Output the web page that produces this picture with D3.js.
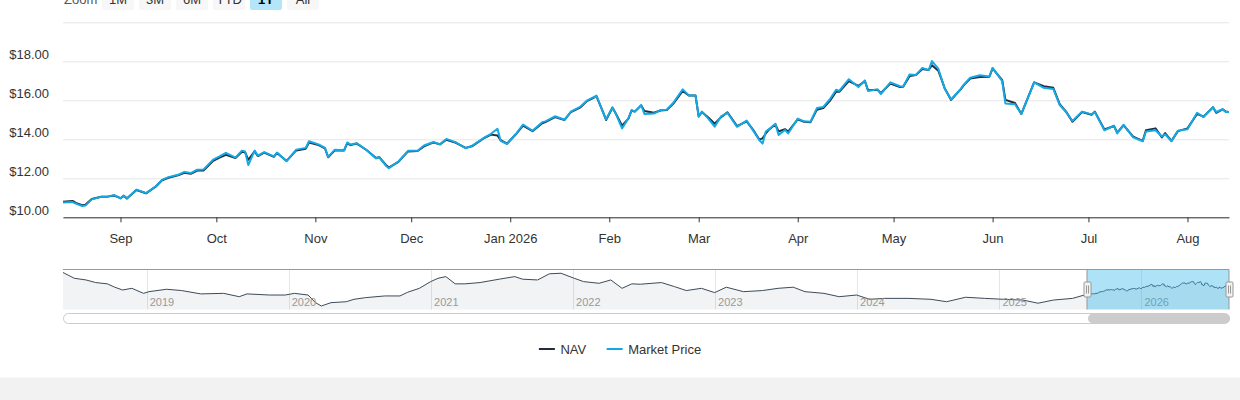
<!DOCTYPE html>
<html>
<head>
<meta charset="utf-8">
<script src="https://cdn.jsdelivr.net/npm/d3@7"></script>
<style>
    body { margin: 0; background: #fff; }
    svg { display: block; font-family: "Liberation Sans", Arial, Helvetica, sans-serif; }
</style>
</head>
<body>
<svg id="chart"></svg>
<script>
// Global settings
const width = 1240;
const height = 400;
const navColor = "#1f2d3d";
const priceColor = "#12a9e6";

// Daily series shown in the main chart (1Y range)
const dates = [
    "2025-08-14","2025-08-17","2025-08-18","2025-08-20","2025-08-21","2025-08-23","2025-08-26","2025-08-28","2025-08-30","2025-09-01",
    "2025-09-02","2025-09-03","2025-09-06","2025-09-09","2025-09-12","2025-09-14","2025-09-16","2025-09-19","2025-09-21","2025-09-23",
    "2025-09-25","2025-09-27","2025-09-30","2025-10-02","2025-10-04","2025-10-07","2025-10-09","2025-10-10","2025-10-11","2025-10-13",
    "2025-10-14","2025-10-16","2025-10-19","2025-10-20","2025-10-23","2025-10-26","2025-10-29","2025-10-30","2025-11-02","2025-11-04",
    "2025-11-05","2025-11-07","2025-11-10","2025-11-11","2025-11-12","2025-11-14","2025-11-17","2025-11-20","2025-11-21","2025-11-23",
    "2025-11-24","2025-11-27","2025-11-30","2025-12-03","2025-12-05","2025-12-08","2025-12-10","2025-12-12","2025-12-15","2025-12-18",
    "2025-12-20","2025-12-24","2025-12-26","2025-12-28","2025-12-29","2025-12-31","2026-01-03","2026-01-05","2026-01-08","2026-01-11",
    "2026-01-12","2026-01-15","2026-01-18","2026-01-20","2026-01-23","2026-01-25","2026-01-28","2026-01-30","2026-01-31","2026-02-02",
    "2026-02-03","2026-02-05","2026-02-07","2026-02-08","2026-02-09","2026-02-11","2026-02-12","2026-02-15","2026-02-17","2026-02-19",
    "2026-02-21","2026-02-24","2026-02-26","2026-02-28","2026-03-01","2026-03-02","2026-03-04","2026-03-06","2026-03-08","2026-03-10",
    "2026-03-13","2026-03-16","2026-03-18","2026-03-20","2026-03-21","2026-03-22","2026-03-23","2026-03-25","2026-03-26","2026-03-28",
    "2026-03-29","2026-04-01","2026-04-03","2026-04-05","2026-04-07","2026-04-09","2026-04-11","2026-04-13","2026-04-14","2026-04-17",
    "2026-04-20","2026-04-22","2026-04-23","2026-04-26","2026-04-27","2026-04-30","2026-05-03","2026-05-04","2026-05-06","2026-05-08",
    "2026-05-10","2026-05-12","2026-05-13","2026-05-15","2026-05-17","2026-05-19","2026-05-22","2026-05-23","2026-05-25","2026-05-28",
    "2026-05-31","2026-06-01","2026-06-04","2026-06-05","2026-06-08","2026-06-10","2026-06-14","2026-06-17","2026-06-20","2026-06-22",
    "2026-06-24","2026-06-26","2026-06-29","2026-07-02","2026-07-03","2026-07-06","2026-07-09","2026-07-10","2026-07-12","2026-07-15",
    "2026-07-18","2026-07-19","2026-07-22","2026-07-24","2026-07-25","2026-07-27","2026-07-29","2026-08-01","2026-08-04","2026-08-06",
    "2026-08-09","2026-08-10","2026-08-12","2026-08-13","2026-08-14"
];

const navPrices = [
    10.80,10.84,10.74,10.62,10.64,10.94,11.05,11.06,11.12,10.98,
    11.10,10.97,11.40,11.23,11.57,11.90,12.03,12.15,12.28,12.23,
    12.40,12.40,12.90,13.06,13.20,13.04,13.36,13.34,12.95,13.38,
    13.14,13.32,13.10,13.30,12.89,13.43,13.52,13.84,13.70,13.54,
    13.08,13.42,13.43,13.80,13.70,13.78,13.45,13.04,13.08,12.70,
    12.55,12.84,13.38,13.40,13.64,13.84,13.74,13.98,13.82,13.56,
    13.64,14.08,14.24,14.20,13.96,13.78,14.30,14.70,14.42,14.82,
    14.88,15.14,14.99,15.40,15.64,15.96,16.20,15.42,14.99,15.62,
    15.34,14.70,15.06,15.48,15.42,15.74,15.45,15.36,15.48,15.50,
    15.82,16.48,16.24,16.24,15.18,15.40,15.12,14.80,15.14,15.38,
    14.68,14.92,14.50,13.98,14.05,14.30,14.50,14.76,14.40,14.52,
    14.40,15.02,14.90,14.88,15.52,15.60,15.96,16.44,16.44,16.98,
    16.74,16.98,16.52,16.54,16.36,16.86,16.68,16.70,17.24,17.30,
    17.60,17.55,17.80,17.52,16.62,16.02,16.56,16.78,17.12,17.20,
    17.21,17.64,17.04,16.02,15.86,15.30,16.92,16.72,16.64,15.80,
    15.42,14.90,15.40,15.26,15.42,14.50,14.68,14.34,14.72,14.14,
    13.92,14.46,14.56,14.10,14.32,13.92,14.42,14.56,15.30,15.16,
    15.64,15.36,15.54,15.42,15.40
];

const marketPrices = [
    10.76,10.78,10.70,10.58,10.60,10.92,11.06,11.06,11.14,10.97,
    11.12,10.96,11.42,11.24,11.58,11.92,12.06,12.18,12.33,12.27,
    12.44,12.45,12.96,13.12,13.30,13.06,13.42,13.38,12.68,13.42,
    13.16,13.34,13.12,13.32,12.88,13.47,13.56,13.90,13.74,13.56,
    13.10,13.46,13.44,13.84,13.73,13.80,13.45,13.02,13.08,12.66,
    12.52,12.86,13.41,13.41,13.68,13.86,13.74,14.02,13.84,13.54,
    13.66,14.10,14.28,14.54,13.92,13.76,14.32,14.76,14.44,14.88,
    14.92,15.18,15.00,15.42,15.68,15.98,16.24,15.40,15.02,15.64,
    15.33,14.56,15.08,15.50,15.42,15.76,15.30,15.32,15.50,15.52,
    15.86,16.56,16.24,16.24,15.16,15.42,15.06,14.65,15.18,15.36,
    14.64,14.96,14.46,13.95,13.78,14.40,14.52,14.80,14.22,14.48,
    14.30,15.06,14.92,14.90,15.60,15.66,16.04,16.54,16.48,17.08,
    16.68,17.02,16.48,16.56,16.32,16.92,16.72,16.70,17.32,17.30,
    17.66,17.55,18.01,17.62,16.60,16.04,16.58,16.80,17.16,17.28,
    17.22,17.66,16.98,15.84,15.80,15.30,16.92,16.64,16.58,15.76,
    15.40,14.94,15.42,15.28,15.40,14.46,14.70,14.30,14.74,14.10,
    13.90,14.40,14.46,14.14,14.26,13.90,14.44,14.52,15.36,15.14,
    15.64,15.40,15.54,15.40,15.40
];

// Older NAV history, only visible in the navigator
const historyDates = [
    "2018-05-31","2018-06-29","2018-07-29","2018-08-23","2018-09-22","2018-10-11","2018-10-31","2018-11-24","2018-12-24","2019-01-07",
    "2019-02-21","2019-04-01","2019-05-20","2019-07-18","2019-08-27","2019-09-16","2019-11-13","2019-12-23","2020-01-16","2020-02-20",
    "2020-03-10","2020-03-25","2020-04-19","2020-05-28","2020-06-17","2020-07-17","2020-09-04","2020-10-13","2020-11-02","2020-12-02",
    "2020-12-31","2021-01-19","2021-02-08","2021-03-04","2021-03-29","2021-05-07","2021-06-25","2021-08-04","2021-08-24","2021-10-02",
    "2021-11-01","2021-12-01","2022-01-04","2022-01-28","2022-03-09","2022-04-08","2022-05-07","2022-06-01","2022-06-23","2022-08-16",
    "2022-09-19","2022-10-19","2022-11-27","2022-12-31","2023-01-30","2023-03-15","2023-05-03","2023-06-12","2023-07-21","2023-08-20",
    "2023-10-08","2023-11-16","2023-12-31","2024-02-02","2024-03-12","2024-05-11","2024-07-09","2024-08-18","2024-10-06","2024-11-24",
    "2025-01-12","2025-03-02","2025-04-10","2025-05-20","2025-07-08"
];

const historyNav = [
    22.5,19.4,18.5,17.1,16.4,14.6,13.1,14.0,11.3,12.2,
    13.5,12.8,11.0,11.3,9.5,11.0,10.4,10.4,11.3,10.4,
    6.3,4.5,6.3,6.8,8.1,9.0,9.9,9.9,11.9,14.0,
    17.6,19.4,20.3,16.4,16.4,17.1,18.9,20.3,18.9,18.5,
    21.8,22.1,19.4,17.6,16.7,18.5,14.0,16.4,16.2,17.1,
    14.9,12.8,14.0,11.7,14.6,12.2,12.8,14.0,14.6,12.2,
    11.3,9.5,10.4,8.1,8.6,8.6,8.1,6.8,9.2,8.6,
    8.1,7.7,6.0,7.7,8.6
];

const yTickValues = [10, 12, 14, 16, 18, 20];
const zoomButtons = ["1M", "3M", "6M", "YTD", "1Y", "All"];
const selectedZoom = "1Y";
const legendItems = [
    {name: "NAV", color: navColor},
    {name: "Market Price", color: priceColor}
];

const parse = d3.utcParse("%Y-%m-%d");
const rows = dates.map((d, i) => ({date: parse(d), nav: navPrices[i], price: marketPrices[i]}));
const history = historyDates.map((d, i) => ({date: parse(d), nav: historyNav[i]}))
    .concat(rows.map(r => ({date: r.date, nav: r.nav})));

const svg = d3.select("#chart")
    .attr("width", width)
    .attr("height", height)
    .attr("viewBox", [0, 0, width, height]);

const plot = {left: 63, right: 1229, top: 22.3, bottom: 217.3};

// footer band
svg.append("rect")
    .attr("x", 0).attr("y", 377.5)
    .attr("width", width).attr("height", height - 377.5)
    .attr("fill", "#f2f2f2");

// =============== Range selector =================
{
    const g = svg.append("g");
    g.append("text")
        .attr("x", 64).attr("y", 4)
        .attr("font-size", 13).attr("fill", "#555")
        .text("Zoom");

    const btn = g.selectAll("g.btn")
        .data(zoomButtons)
        .join("g")
        .attr("class", "btn")
        .attr("transform", (d, i) => `translate(${102 + i * 37},0)`);

    btn.append("rect")
        .attr("y", -12).attr("width", 32).attr("height", 22).attr("rx", 2)
        .attr("fill", d => d === selectedZoom ? "#b5e5f8" : "#f7f7f7");

    btn.append("text")
        .attr("x", 16).attr("y", 4)
        .attr("text-anchor", "middle")
        .attr("font-size", 13)
        .attr("font-weight", d => d === selectedZoom ? "bold" : "normal")
        .attr("fill", d => d === selectedZoom ? "#000" : "#333")
        .text(d => d);
}

// =============== Main chart =================
const x = d3.scaleUtc()
    .domain([rows[0].date, rows[rows.length - 1].date])
    .range([plot.left, plot.right]);

const y = d3.scaleLinear()
    .domain([10, 20])
    .range([plot.bottom, plot.top]);

svg.append("g")
    .attr("transform", `translate(${plot.left},0)`)
    .call(d3.axisLeft(y)
        .tickValues(yTickValues)
        .tickSize(-(plot.right - plot.left))
        .tickPadding(14)
        .tickFormat(d => d === 20 ? "" : "$" + d.toFixed(2)))
    .call(g => g.select(".domain").remove())
    .call(g => g.selectAll(".tick line").attr("stroke", "#e6e6e6"))
    .call(g => g.selectAll(".tick text")
        .attr("dy", -3)
        .attr("font-size", 13)
        .attr("font-family", "Liberation Sans, Arial, sans-serif")
        .attr("fill", "#333"));

svg.append("g")
    .attr("transform", `translate(0,${plot.bottom})`)
    .call(d3.axisBottom(x)
        .ticks(d3.utcMonth.every(1))
        .tickSize(5)
        .tickSizeOuter(0)
        .tickPadding(11.5)
        .tickFormat(d => d.getUTCMonth() === 0 ? d3.utcFormat("%b %Y")(d) : d3.utcFormat("%b")(d)))
    .call(g => g.select(".domain").attr("stroke", "#333"))
    .call(g => g.selectAll(".tick line").attr("stroke", "#333"))
    .call(g => g.selectAll(".tick text")
        .attr("font-size", 13)
        .attr("font-family", "Liberation Sans, Arial, sans-serif")
        .attr("fill", "#333"));

const navLine = d3.line().x(d => x(d.date)).y(d => y(d.nav));
const priceLine = d3.line().x(d => x(d.date)).y(d => y(d.price));

svg.append("path")
    .datum(rows)
    .attr("d", navLine)
    .attr("fill", "none")
    .attr("stroke", navColor)
    .attr("stroke-width", 2)
    .attr("stroke-linejoin", "round");

svg.append("path")
    .datum(rows)
    .attr("d", priceLine)
    .attr("fill", "none")
    .attr("stroke", priceColor)
    .attr("stroke-width", 2)
    .attr("stroke-linejoin", "round");

// =============== Navigator =================
const nav = {top: 269.5, bottom: 309.5};

const navX = d3.scaleUtc()
    .domain([history[0].date, history[history.length - 1].date])
    .range([plot.left, plot.right]);

const navY = d3.scaleLinear()
    .domain(d3.extent(history, d => d.nav))
    .range([306, 272.5]);

{
    const g = svg.append("g");
    const years = navX.ticks(d3.utcYear.every(1));

    g.selectAll("line.year")
        .data(years)
        .join("line")
        .attr("x1", d => Math.round(navX(d)) + 0.5)
        .attr("x2", d => Math.round(navX(d)) + 0.5)
        .attr("y1", nav.top).attr("y2", nav.bottom)
        .attr("stroke", "#e6e6e6");

    g.append("path")
        .datum(history)
        .attr("d", d3.area().x(d => navX(d.date)).y0(nav.bottom).y1(d => navY(d.nav)))
        .attr("fill", navColor)
        .attr("fill-opacity", 0.06);

    g.append("path")
        .datum(history)
        .attr("d", d3.line().x(d => navX(d.date)).y(d => navY(d.nav)))
        .attr("fill", "none")
        .attr("stroke", "#3d4b59")
        .attr("stroke-width", 1);

    g.selectAll("text.year")
        .data(years)
        .join("text")
        .attr("x", d => navX(d) + 3)
        .attr("y", 306)
        .attr("font-size", 11)
        .attr("fill", "#999")
        .text(d => d.getUTCFullYear());

    const x0 = navX(rows[0].date);
    const x1 = navX(rows[rows.length - 1].date);

    // selected range mask
    g.append("rect")
        .attr("x", x0).attr("y", nav.top)
        .attr("width", x1 - x0).attr("height", nav.bottom - nav.top)
        .attr("fill", "#2bb3e8")
        .attr("fill-opacity", 0.38);

    g.append("path")
        .attr("d", `M${plot.left},${nav.top}H${plot.right}M${x0},${nav.top}V${nav.bottom}M${x1},${nav.top}V${nav.bottom}`)
        .attr("fill", "none")
        .attr("stroke", "#999");

    const handles = g.selectAll("g.handle")
        .data([x0, x1])
        .join("g")
        .attr("transform", d => `translate(${Math.round(d) + 0.5},289.5)`);

    handles.append("rect")
        .attr("x", -3.5).attr("y", -7.5)
        .attr("width", 7).attr("height", 15).attr("rx", 1)
        .attr("fill", "#f2f2f2")
        .attr("stroke", "#999");

    handles.selectAll("line")
        .data([-1, 1])
        .join("line")
        .attr("x1", d => d).attr("x2", d => d)
        .attr("y1", -4).attr("y2", 4)
        .attr("stroke", "#999");

    // scrollbar
    g.append("rect")
        .attr("x", plot.left + 0.5).attr("y", 313.5)
        .attr("width", plot.right - plot.left).attr("height", 10).attr("rx", 5)
        .attr("fill", "#fff")
        .attr("stroke", "#ccc");

    g.append("rect")
        .attr("x", x0 + 1).attr("y", 313.5)
        .attr("width", x1 - x0).attr("height", 10).attr("rx", 5)
        .attr("fill", "#cccccc");
}

// =============== Legend =================
{
    const g = svg.append("g");
    const items = g.selectAll("g.item")
        .data(legendItems)
        .join("g")
        .attr("class", "item");

    items.append("line")
        .attr("x1", 0).attr("x2", 16)
        .attr("y1", 349).attr("y2", 349)
        .attr("stroke", d => d.color)
        .attr("stroke-width", 2);

    items.append("text")
        .attr("x", 21.5).attr("y", 353.5)
        .attr("font-size", 13)
        .attr("fill", "#333")
        .text(d => d.name);

    const widths = [];
    items.each(function() {
        widths.push(21.5 + d3.select(this).select("text").node().getComputedTextLength());
    });
    const gap = 20.5;
    const total = d3.sum(widths) + gap * (widths.length - 1);
    let offset = 620 - total / 2;
    items.attr("transform", (d, i) => {
        const t = `translate(${offset},0)`;
        offset += widths[i] + gap;
        return t;
    });
}
</script>
</body>
</html>
